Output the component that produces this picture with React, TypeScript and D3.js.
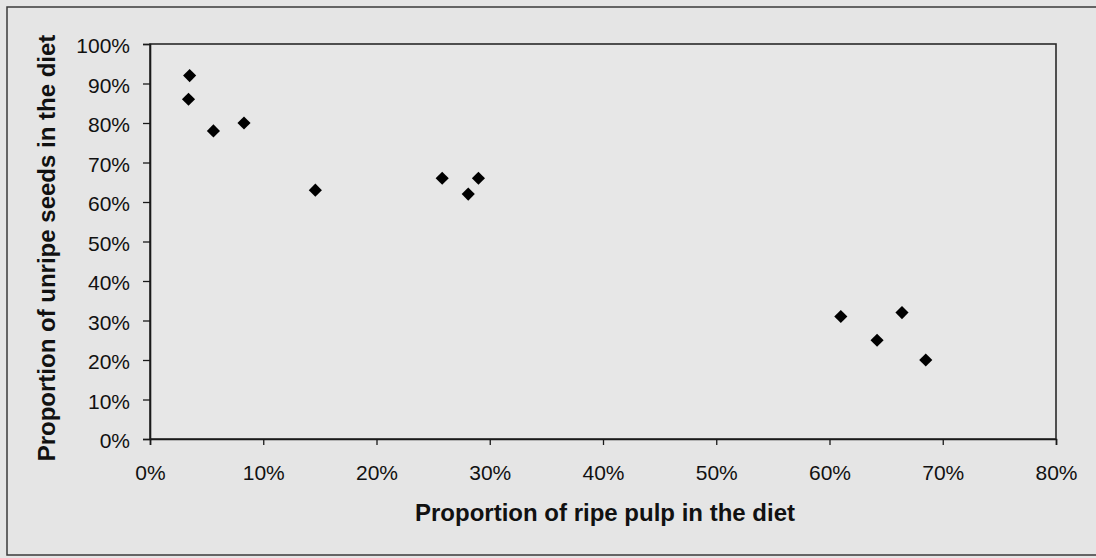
import React, { useEffect, useRef } from "react";
import * as d3 from "d3";

const ripePulp = [3.5, 3.4, 5.6, 8.3, 14.6, 25.8, 28.1, 29.0, 61.0, 64.2, 66.4, 68.5];
const unripeSeeds = [92, 86, 78, 80, 63, 66, 62, 66, 31, 25, 32, 20];
const xTicks = [0, 10, 20, 30, 40, 50, 60, 70, 80];
const yTicks = [0, 10, 20, 30, 40, 50, 60, 70, 80, 90, 100];
const xTitle = "Proportion of ripe pulp in the diet";
const yTitle = "Proportion of unripe seeds in the diet";

const W = 1096;
const H = 558;

export default function App() {
  const ref = useRef<SVGSVGElement | null>(null);

  useEffect(() => {
    const svg = d3.select(ref.current);
    svg.selectAll("*").remove();
    const font = "'Liberation Sans', Arial, sans-serif";
    const left = 150, right = 1056, top = 44, bottom = 439;
    const x = d3.scaleLinear().domain([0, 80]).range([left, right]);
    const y = d3.scaleLinear().domain([0, 100]).range([bottom, top]);

    svg.append("rect").attr("x", 0).attr("y", 0).attr("width", W).attr("height", H).attr("fill", "#e5e5e5");
    // outer frame
    svg.append("rect").attr("x", 7).attr("y", 7).attr("width", W + 20).attr("height", 548)
      .attr("fill", "none").attr("stroke", "#3a3a3a").attr("stroke-width", 1.5);
    // plot frame
    svg.append("rect").attr("x", left).attr("y", top).attr("width", right - left).attr("height", bottom - top)
      .attr("fill", "#e7e7e7").attr("stroke", "#2a2a2a").attr("stroke-width", 1.6);

    const xAxis = svg.append("g").attr("transform", `translate(0,${bottom})`)
      .call(d3.axisBottom(x).tickValues(xTicks).tickSize(6).tickPadding(20).tickFormat((d) => `${d}%`));
    xAxis.select(".domain").attr("stroke", "#1a1a1a").attr("stroke-width", 1.6);
    xAxis.selectAll("line").attr("stroke", "#1a1a1a").attr("stroke-width", 1.3);
    xAxis.selectAll("text").attr("font-family", font).attr("font-size", 21).attr("fill", "#111");

    const yAxis = svg.append("g").attr("transform", `translate(${left},0)`)
      .call(d3.axisLeft(y).tickValues(yTicks).tickSize(7).tickPadding(13).tickFormat((d) => `${d}%`));
    yAxis.select(".domain").attr("stroke", "#1a1a1a").attr("stroke-width", 1.6);
    yAxis.selectAll("line").attr("stroke", "#1a1a1a").attr("stroke-width", 1.3);
    yAxis.selectAll("text").attr("font-family", font).attr("font-size", 21).attr("fill", "#111")
      .attr("dy", "0.42em");

    const sym = d3.symbol().type(d3.symbolDiamond2).size(110);
    svg.append("g").selectAll("path").data(ripePulp.map((v, i) => [v, unripeSeeds[i]]))
      .join("path")
      .attr("transform", (d) => `translate(${x(d[0])},${y(d[1])})`)
      .attr("d", sym as any)
      .attr("fill", "#000");

    svg.append("text").attr("x", 605).attr("y", 521).attr("text-anchor", "middle")
      .attr("font-family", font).attr("font-size", 24).attr("font-weight", "bold").attr("fill", "#111")
      .text(xTitle);
    svg.append("text").attr("transform", `translate(55,248) rotate(-90)`).attr("text-anchor", "middle")
      .attr("font-family", font).attr("font-size", 24).attr("font-weight", "bold").attr("fill", "#111")
      .text(yTitle);
  }, []);

  return (
    <svg ref={ref} width={W} height={H} style={{ position: "absolute", left: 0, top: 0, display: "block" }} />
  );
}
